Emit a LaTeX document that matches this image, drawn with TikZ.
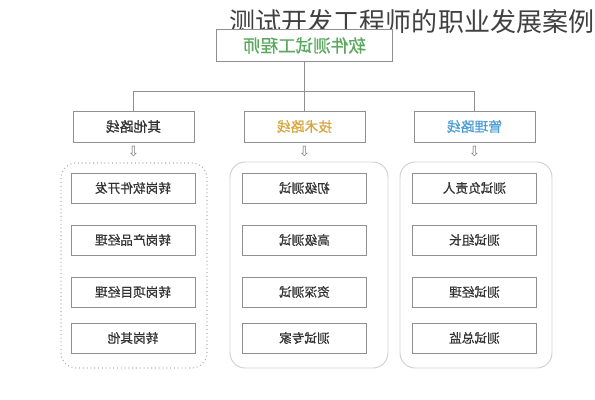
\documentclass[tikz,border=0pt]{standalone}
\usepackage{fontspec}
\newfontfamily\cjk{Noto Sans CJK SC}
\newfontfamily\cjkm[FakeBold=0.7]{Noto Sans CJK SC}
\newfontfamily\simbolo{DejaVu Sans}
\definecolor{verde}{HTML}{5BA85F}
\definecolor{ouro}{HTML}{D8A53C}
\definecolor{azul}{HTML}{4A9ED6}
\definecolor{cinza}{HTML}{909090}
\tikzset{
  caixa/.style={draw=cinza, line width=0.6pt, fill=white, inner sep=0pt,
    font=\cjkm, text=black!80, xscale=-1},
  topo/.style={caixa, minimum width=4.4cm, minimum height=0.78cm, font=\cjkm\fontsize{12.5}{14}\selectfont, text=verde},
  ramo/.style={caixa, minimum width=3.025cm, minimum height=0.775cm, font=\cjkm\fontsize{9.8}{12}\selectfont},
  cargo/.style={caixa, minimum width=3.1cm, minimum height=0.75cm, font=\cjkm\fontsize{9}{11}\selectfont},
  grupo/.style={draw=gray!35, line width=0.7pt, rounded corners=0.38cm},
  liga/.style={draw=cinza, line width=0.6pt},
  seta/.style={font=\simbolo\fontsize{10}{11}\selectfont, text=gray, inner sep=0pt}
}
\begin{document}
\begin{tikzpicture}[x=0.025cm, y=-0.025cm]
  \useasboundingbox (0,0) rectangle (595,400);

  % Titulo
  \node[font=\cjk\fontsize{18.5}{20}\selectfont, text=black!75] (titulo) at (412,22) {测试开发工程师的职业发展案例};

  % Caixas de fundo
  \draw[grupo, draw=gray!60, dotted, line width=0.8pt] (61,163) rectangle (207,368);
  \draw[grupo] (230,162) rectangle (388,368);
  \draw[grupo] (400,162) rectangle (552,368);

  % Topo e ramos
  \node[topo] (eng) at (304.5,45.5) {软件测试工程师};
  \node[ramo] (outros) at (133.5,126.5) {其他路线};
  \node[ramo, text=ouro] (tecnica) at (304.5,126.5) {技术路线};
  \node[ramo, text=azul] (gestao) at (474.5,126.5) {管理路线};

  % Linhas
  \coordinate (j) at (eng.south |- 0,91);
  \coordinate (jl) at (outros.north |- j);
  \coordinate (jr) at (gestao.north |- j);
  \draw[liga] (eng.south) -- (j);
  \draw[liga] (jl) -- (jr);
  \draw[liga] (jl) -- (outros.north);
  \draw[liga] (j) -- (tecnica.north);
  \draw[liga] (jr) -- (gestao.north);

  % Setas
  \node[seta] (s1) at (133.5,152) {⇩};
  \node[seta] (s2) at (304.5,152) {⇩};
  \node[seta] (s3) at (474.5,152) {⇩};

  % Cargos
  \node[cargo] (o1) at (133,188) {转岗软件开发};
  \node[cargo] (o2) at (133,240) {转岗产品经理};
  \node[cargo] (o3) at (133,292) {转岗项目经理};
  \node[cargo] (o4) at (133,338) {转岗其他};

  \node[cargo] (t1) at (304.5,188) {初级测试};
  \node[cargo] (t2) at (304.5,240) {高级测试};
  \node[cargo] (t3) at (304.5,292) {资深测试};
  \node[cargo] (t4) at (304.5,338) {测试专家};

  \node[cargo] (g1) at (474.5,188) {测试负责人};
  \node[cargo] (g2) at (474.5,240) {测试组长};
  \node[cargo] (g3) at (474.5,292) {测试经理};
  \node[cargo] (g4) at (474.5,338) {测试总监};
\end{tikzpicture}
\end{document}
